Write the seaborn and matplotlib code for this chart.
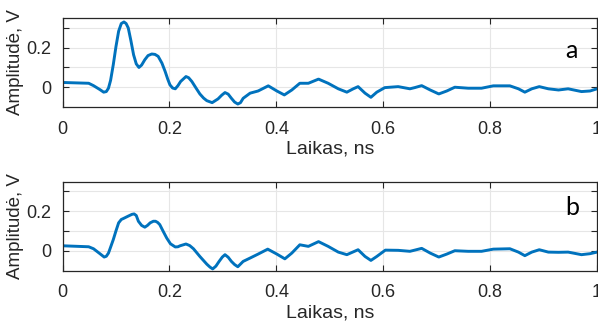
import numpy as np
import pandas as pd
import matplotlib
matplotlib.use("Agg")
import matplotlib.pyplot as plt
import seaborn as sns
from matplotlib.ticker import FixedLocator

# ---- data ----
t_a = [0.0, 0.049, 0.058, 0.070, 0.077, 0.082, 0.086, 0.090, 0.095, 0.100, 0.105, 0.110, 0.115,
       0.119, 0.123, 0.128, 0.133, 0.138, 0.143, 0.148,
       0.154, 0.160, 0.167, 0.173, 0.179, 0.186, 0.192, 0.197, 0.201, 0.206, 0.211, 0.216, 0.221,
       0.231, 0.236, 0.242, 0.250, 0.257, 0.264, 0.270, 0.280,
       0.291, 0.298, 0.304, 0.310, 0.316, 0.322, 0.328, 0.333, 0.338, 0.351, 0.366, 0.385, 0.401,
       0.415, 0.429, 0.444,
       0.460, 0.479, 0.497, 0.516, 0.532, 0.544, 0.553, 0.566, 0.577, 0.588, 0.603, 0.628,
       0.650, 0.659, 0.672, 0.688, 0.704, 0.719, 0.734, 0.759, 0.784, 0.806, 0.837, 0.853,
       0.865, 0.878, 0.892, 0.909, 0.928, 0.946, 0.971, 0.987, 1.0]
v_a = [0.024, 0.020, 0.008, -0.012, -0.025, -0.022, -0.005, 0.035, 0.114, 0.205, 0.283, 0.322, 0.330,
       0.322, 0.300, 0.235, 0.164, 0.118, 0.100, 0.112,
       0.139, 0.160, 0.168, 0.166, 0.156, 0.122, 0.080, 0.040, 0.012, -0.004, -0.008, 0.008, 0.029,
       0.054, 0.048, 0.029, -0.005, -0.034, -0.055, -0.068, -0.078,
       -0.059, -0.040, -0.027, -0.035, -0.056, -0.075, -0.085, -0.078, -0.056, -0.030, -0.019, 0.007,
       -0.019, -0.039, -0.014, 0.020,
       0.020, 0.041, 0.020, -0.008, -0.025, -0.008, 0.003, -0.030, -0.051, -0.025, -0.002, 0.003,
       -0.008, -0.002, 0.008, -0.014, -0.034, -0.019, 0.000, -0.005, -0.005, 0.007, 0.007, -0.008,
       -0.025, -0.008, 0.003, -0.008, -0.014, -0.008, -0.022, -0.019, -0.008]

t_b = [0.0, 0.049, 0.058, 0.070, 0.078, 0.082, 0.086, 0.090, 0.095, 0.100, 0.105, 0.110, 0.114,
       0.123, 0.130, 0.134, 0.138, 0.142, 0.148, 0.154, 0.159,
       0.164, 0.170, 0.174, 0.178, 0.182, 0.188, 0.195, 0.202, 0.211, 0.216, 0.220, 0.231, 0.238,
       0.245, 0.257, 0.264, 0.270, 0.276, 0.281, 0.287, 0.293,
       0.299, 0.304, 0.310, 0.316, 0.322, 0.328, 0.338, 0.351, 0.366, 0.384, 0.401, 0.416, 0.429,
       0.444, 0.460,
       0.479, 0.497, 0.516, 0.532, 0.553, 0.566, 0.577, 0.588, 0.604, 0.628, 0.650, 0.659,
       0.672, 0.688, 0.704, 0.719, 0.734, 0.759, 0.784, 0.806, 0.837, 0.853, 0.865, 0.878,
       0.892, 0.909, 0.928, 0.946, 0.971, 0.987, 1.0]
v_b = [0.025, 0.020, 0.010, -0.015, -0.032, -0.028, -0.012, 0.018, 0.056, 0.100, 0.141, 0.158, 0.163,
       0.175, 0.184, 0.186, 0.178, 0.149, 0.128, 0.119, 0.128,
       0.141, 0.149, 0.149, 0.143, 0.132, 0.100, 0.064, 0.035, 0.019, 0.020, 0.025, 0.034, 0.026,
       0.010, -0.029, -0.050, -0.068, -0.083, -0.092, -0.078, -0.054,
       -0.032, -0.020, -0.033, -0.054, -0.070, -0.081, -0.054, -0.037, -0.017, 0.008, -0.017, -0.041,
       -0.012, 0.030, 0.022,
       0.046, 0.022, -0.007, -0.020, 0.005, -0.029, -0.049, -0.029, 0.003, 0.002, -0.003, 0.003,
       0.012, -0.012, -0.032, -0.017, 0.000, -0.003, -0.003, 0.008, 0.010, -0.007, -0.025, -0.007,
       0.005, -0.007, -0.008, -0.007, -0.020, -0.015, -0.007]

panel_labels = ["a", "b"]
panel_label_y = [0.185, 0.22]
x_ticks = [0, 0.2, 0.4, 0.6, 0.8, 1.0]
x_ticklabels = ["0", "0.2", "0.4", "0.6", "0.8", "1"]
y_ticks = [0, 0.2]
y_ticklabels = ["0", "0.2"]
y_minor = [0.1, 0.3]
x_label = "Laikas, ns"
y_label = "Amplitudė, V"

sns.set_theme(style="white")
plt.rcParams['font.family'] = ['Liberation Sans', 'DejaVu Sans']

fig = plt.figure(figsize=(5.98, 3.27), dpi=100)
W, H = 598, 327
def rect(l, t, r, b):
    return [l / W, 1 - b / H, (r - l) / W, (b - t) / H]

axes = [fig.add_axes(rect(62.5, 18, 597, 107)), fig.add_axes(rect(62.5, 181.5, 597, 270.5))]
line_col = "#0072BD"
edge = "#262626"
for ax, tt, vv, lab, ly in zip(axes, [t_a, t_b], [v_a, v_b], panel_labels, panel_label_y):
    df = pd.DataFrame({"t": tt, "v": vv})
    sns.lineplot(data=df, x="t", y="v", ax=ax, color=line_col, linewidth=2.1, sort=False)
    ax.set_xlim(0, 1)
    ax.set_ylim(-0.1, 0.35)
    ax.xaxis.set_major_locator(FixedLocator(x_ticks))
    ax.set_xticklabels(x_ticklabels)
    ax.yaxis.set_major_locator(FixedLocator(y_ticks))
    ax.set_yticklabels(y_ticklabels)
    ax.yaxis.set_minor_locator(FixedLocator(y_minor))
    ax.grid(True, which="both", color="#e6e6e6", linewidth=0.8)
    ax.set_axisbelow(True)
    ax.tick_params(which="both", direction="in", top=True, right=True, bottom=True, left=True,
                   length=4, width=0.8, color=edge, labelsize=13, labelcolor="#262626")
    ax.tick_params(axis="x", pad=10)
    ax.tick_params(axis="y", pad=8)
    for s in ax.spines.values():
        s.set_color(edge)
        s.set_linewidth(0.9)
    ax.set_xlabel(x_label, fontsize=14, color="#262626", labelpad=2)
    ax.set_ylabel(y_label, fontsize=13.5, color="#262626", labelpad=2)
    ax.text(0.953, ly, lab, transform=ax.get_yaxis_transform(),
            fontsize=18, family=["Lato", "DejaVu Sans"], ha="center", va="center", color="black")

fig.savefig("out.png", dpi=100)
